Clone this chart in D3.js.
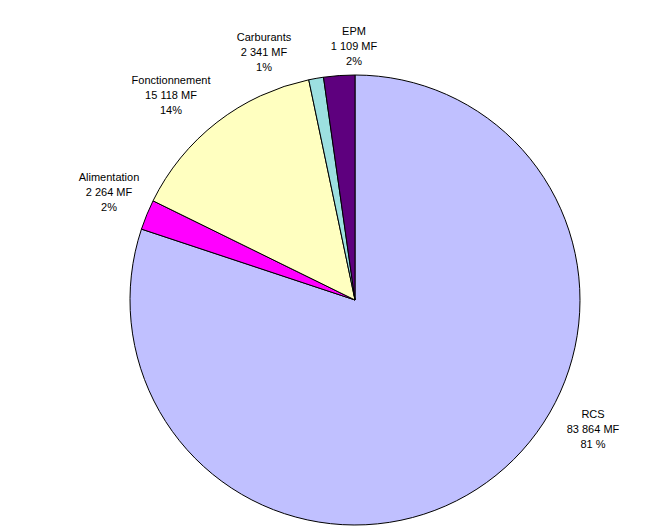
<!DOCTYPE html>
<html>
<head>
<meta charset="utf-8">
<script src="https://cdn.jsdelivr.net/npm/d3@7/dist/d3.min.js"></script>
<style>
  html, body { margin: 0; padding: 0; background: #fff; }
  svg { display: block; }
  text { font-family: "Liberation Sans", Arial, sans-serif; font-size: 11px; fill: #000; }
</style>
</head>
<body>
<svg id="chart" width="665" height="531"></svg>
<script>
// Data (clockwise from 12 o'clock)
const categories = ["RCS", "Alimentation", "Fonctionnement", "Carburants", "EPM"];
const sliceValues = [83864, 2264, 15118, 1109, 2341];   // slice sizes as drawn
const amountLabels = ["83 864 MF", "2 264 MF", "15 118 MF", "2 341 MF", "1 109 MF"];
const percentLabels = ["81 %", "2%", "14%", "1%", "2%"];

// Styles / layout (not data)
const colors = ["#C0C0FF", "#FF00FF", "#FFFFC0", "#9CE0E0", "#5E007E"];
const cx = 355, cy = 300, radius = 225;
// label anchor offsets (from pie center) for the first line of each label
const labelOffsets = [[238, 114], [-246, -123], [-184, -220], [-91, -263], [-1, -269]];
const lineHeight = 15;

const svg = d3.select("#chart");
const g = svg.append("g").attr("transform", `translate(${cx},${cy})`);

const pie = d3.pie().sort(null).value(d => d).startAngle(0).endAngle(2 * Math.PI);
const arcs = pie(sliceValues);
const arc = d3.arc().innerRadius(0).outerRadius(radius);

g.selectAll("path.slice")
  .data(arcs)
  .join("path")
  .attr("class", "slice")
  .attr("d", arc)
  .attr("fill", (d, i) => colors[i])
  .attr("stroke", "#000")
  .attr("stroke-width", 1)
  .attr("stroke-linejoin", "round");

const labels = g.selectAll("g.label")
  .data(categories)
  .join("g")
  .attr("class", "label")
  .attr("transform", (d, i) => `translate(${labelOffsets[i][0]},${labelOffsets[i][1]})`);

labels.each(function(d, i) {
  const sel = d3.select(this);
  [d, amountLabels[i], percentLabels[i]].forEach((t, k) => {
    sel.append("text")
      .attr("text-anchor", "middle")
      .attr("y", k * lineHeight)
      .attr("dy", "0.35em")
      .text(t);
  });
});
</script>
</body>
</html>
